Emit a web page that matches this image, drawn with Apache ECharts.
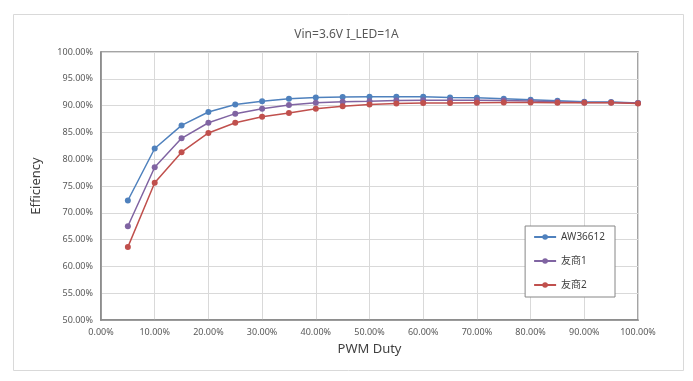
<!DOCTYPE html>
<html><head><meta charset="utf-8">
<script src="https://cdn.jsdelivr.net/npm/echarts@6/dist/echarts.min.js"></script>
<style>html,body{margin:0;padding:0;background:#fff}#c{width:693px;height:381px}</style>
</head><body><div id="c"></div>
<script>
const duty = [5,10,15,20,25,30,35,40,45,50,55,60,65,70,75,80,85,90,95,100];
const aw36612 = [72.3,82.0,86.3,88.8,90.2,90.8,91.3,91.5,91.6,91.65,91.65,91.65,91.5,91.45,91.3,91.1,90.9,90.7,90.65,90.5];
const comp1 = [67.5,78.5,83.9,86.8,88.5,89.4,90.1,90.55,90.7,90.8,90.95,91.0,91.0,91.0,90.95,90.85,90.7,90.6,90.6,90.5];
const comp2 = [63.6,75.6,81.3,84.9,86.8,87.9,88.6,89.4,89.9,90.2,90.4,90.5,90.5,90.55,90.6,90.6,90.55,90.55,90.55,90.4];
const seriesNames = ['AW36612','友商1','友商2'];
const titleText = 'Vin=3.6V I_LED=1A';
const xTitle = 'PWM Duty';
const yTitle = 'Efficiency';
const colors = ['#4f81bd','#8064a2','#c0504d'];
const FONT = '"Noto Sans","Noto Sans CJK SC",sans-serif';

const mk = (name, vals, c) => ({
  name, type:'line', data: duty.map((d,i)=>[d, vals[i]]),
  symbol:'circle', symbolSize:6, lineStyle:{width:1.5,color:c}, itemStyle:{color:c},
  emphasis:{disabled:true}
});
const chart = echarts.init(document.getElementById('c'), null, {renderer:'canvas'});
chart.setOption({
  animation:false,
  backgroundColor:'#fff',
  textStyle:{fontFamily:FONT},
  title:{text:titleText,left:'center',top:24,textStyle:{fontFamily:FONT,fontSize:12,fontWeight:'normal',color:'#595959'}},
  graphic:[{type:'rect',shape:{x:13.5,y:14.5,width:670,height:356},style:{fill:null,stroke:'#d9d9d9',lineWidth:1},silent:true,z:-1}],
  grid:{left:101,right:55,top:52,bottom:61,show:true,borderColor:'#868686',borderWidth:1.5,backgroundColor:'transparent'},
  legend:{orient:'vertical',right:78,top:226,itemGap:12,itemWidth:22,itemHeight:7,
    data:seriesNames,
    borderColor:'#868686',borderWidth:1,padding:[5,10,6,8],backgroundColor:'#fff',
    textStyle:{fontFamily:FONT,fontSize:10,color:'#404040',lineHeight:12}},
  xAxis:{type:'value',min:0,max:100,interval:10,
    name:xTitle,nameLocation:'middle',nameGap:23,nameTextStyle:{fontSize:13,color:'#404040',fontFamily:FONT},
    axisLine:{show:true,lineStyle:{color:'#868686',width:1.5}},
    axisTick:{show:false},
    axisLabel:{fontSize:9,color:'#595959',formatter:v=>v.toFixed(2)+'%',margin:8},
    splitLine:{show:true,lineStyle:{color:'#d9d9d9',width:1}}},
  yAxis:{type:'value',min:50,max:100,interval:5,
    name:yTitle,nameLocation:'middle',nameGap:58,nameTextStyle:{fontSize:13,color:'#404040',fontFamily:FONT},
    axisLine:{show:true,lineStyle:{color:'#868686',width:1.5}},
    axisTick:{show:false},
    axisLabel:{fontSize:9,color:'#595959',formatter:v=>v.toFixed(2)+'%',margin:8},
    splitLine:{show:true,lineStyle:{color:'#d9d9d9',width:1}}},
  series:[mk(seriesNames[0],aw36612,colors[0]),mk(seriesNames[1],comp1,colors[1]),mk(seriesNames[2],comp2,colors[2])]
});
</script></body></html>
